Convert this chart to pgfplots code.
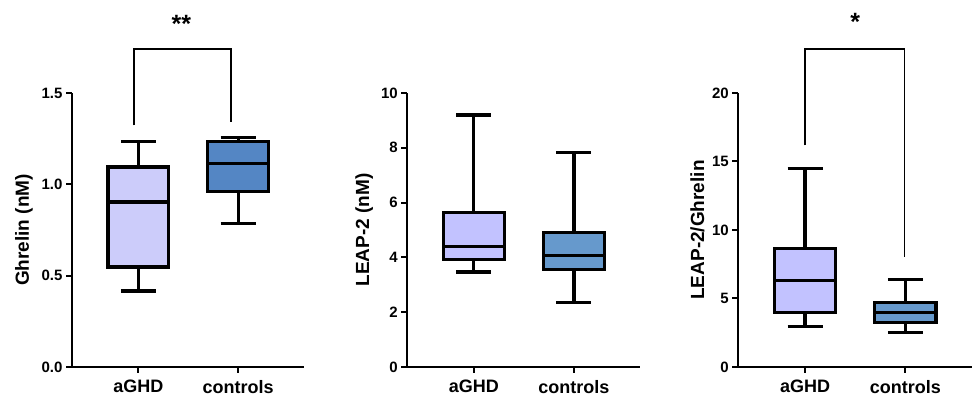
\documentclass[border=0pt]{standalone}
\usepackage{fontspec}
\setmainfont{Liberation Sans}
\usepackage{pgfplots}
\pgfplotsset{compat=1.18}
\usepgfplotslibrary{statistics}
\definecolor{lavA}{RGB}{204,204,250}
\definecolor{bluA}{RGB}{84,134,196}
\definecolor{lavB}{RGB}{194,194,255}
\definecolor{bluB}{RGB}{102,153,204}
\tikzset{
 br/.style={line width=1.8pt},
 st/.style={font=\bfseries\fontsize{25}{25}\selectfont},
 bx/.style={draw=black, line width=3.2pt},
}
\pgfplotsset{
 gp/.style={
  scale only axis, height=274pt, anchor=south west,
  xmin=0.335, xmax=2.66, ymin=0,
  axis x line=bottom, axis y line=left,
  axis line style={-, line width=2pt, black},
  major tick style={line width=2pt, black},
  major tick length=6pt, tick align=outside,
  xtick={1,2}, xticklabels={aGHD,controls},
  x tick label style={font=\bfseries\fontsize{18}{18}\selectfont, yshift=-3.5pt},
  y tick label style={font=\bfseries\fontsize{15}{15}\selectfont},
  /pgf/number format/assume math mode=true,
  ylabel style={font=\bfseries\fontsize{19}{19}\selectfont, at={(axis description cs:0,0.5)}, anchor=center},
  clip=false,
  boxplot/draw direction=y,
 },
}
\begin{document}
\begin{tikzpicture}
\useasboundingbox (0,0) rectangle (974pt,395pt);
% Panel 1
\begin{axis}[gp, at={(72pt,28pt)}, width=232pt, ymax=1.5,
  ytick={0,0.5,1,1.5}, yticklabels={0.0,0.5,1.0,1.5},
  ylabel={Ghrelin (nM)}, ylabel style={yshift=48pt}]
\addplot[bx, fill=lavA, boxplot prepared={draw position=1, lower whisker=0.416, lower quartile=0.547, median=0.903, upper quartile=1.095, upper whisker=1.234, box extend=0.61, whisker extend=0.35}] coordinates {};
\addplot[bx, fill=bluA, boxplot prepared={draw position=2, lower whisker=0.785, lower quartile=0.962, median=1.113, upper quartile=1.234, upper whisker=1.256, box extend=0.61, whisker extend=0.35}] coordinates {};
\draw[br] (axis cs:0.96,1.323) |- (axis cs:1.93,1.739) -- (axis cs:1.93,1.341);
\node[st] at (axis cs:1.43,1.88) {**};
\end{axis}
% Panel 2
\begin{axis}[gp, at={(407.3pt,28pt)}, width=232.7pt, ymax=10,
  ytick={0,2,4,6,8,10},
  ylabel={LEAP-2 (nM)}, ylabel style={yshift=43pt}]
\addplot[bx, fill=lavB, boxplot prepared={draw position=1, lower whisker=3.47, lower quartile=3.93, median=4.41, upper quartile=5.65, upper whisker=9.20, box extend=0.61, whisker extend=0.35}] coordinates {};
\addplot[bx, fill=bluB, boxplot prepared={draw position=2, lower whisker=2.35, lower quartile=3.57, median=4.07, upper quartile=4.90, upper whisker=7.84, box extend=0.61, whisker extend=0.35}] coordinates {};
\end{axis}
% Panel 3
\begin{axis}[gp, at={(738.3pt,28pt)}, width=233.4pt, ymax=20,
  ytick={0,5,10,15,20},
  ylabel={LEAP-2/Ghrelin}, ylabel style={yshift=41pt}]
\addplot[bx, fill=lavB, boxplot prepared={draw position=1, lower whisker=2.93, lower quartile=3.95, median=6.29, upper quartile=8.63, upper whisker=14.49, box extend=0.61, whisker extend=0.35}] coordinates {};
\addplot[bx, fill=bluB, boxplot prepared={draw position=2, lower whisker=2.54, lower quartile=3.22, median=4.00, upper quartile=4.73, upper whisker=6.41, box extend=0.61, whisker extend=0.35}] coordinates {};
\draw[br] (axis cs:1.0,16.17) |- (axis cs:1.99,23.24) -- (axis cs:1.99,8.0);
\node[st] at (axis cs:1.50,25.2) {*};
\end{axis}
\end{tikzpicture}
\end{document}
